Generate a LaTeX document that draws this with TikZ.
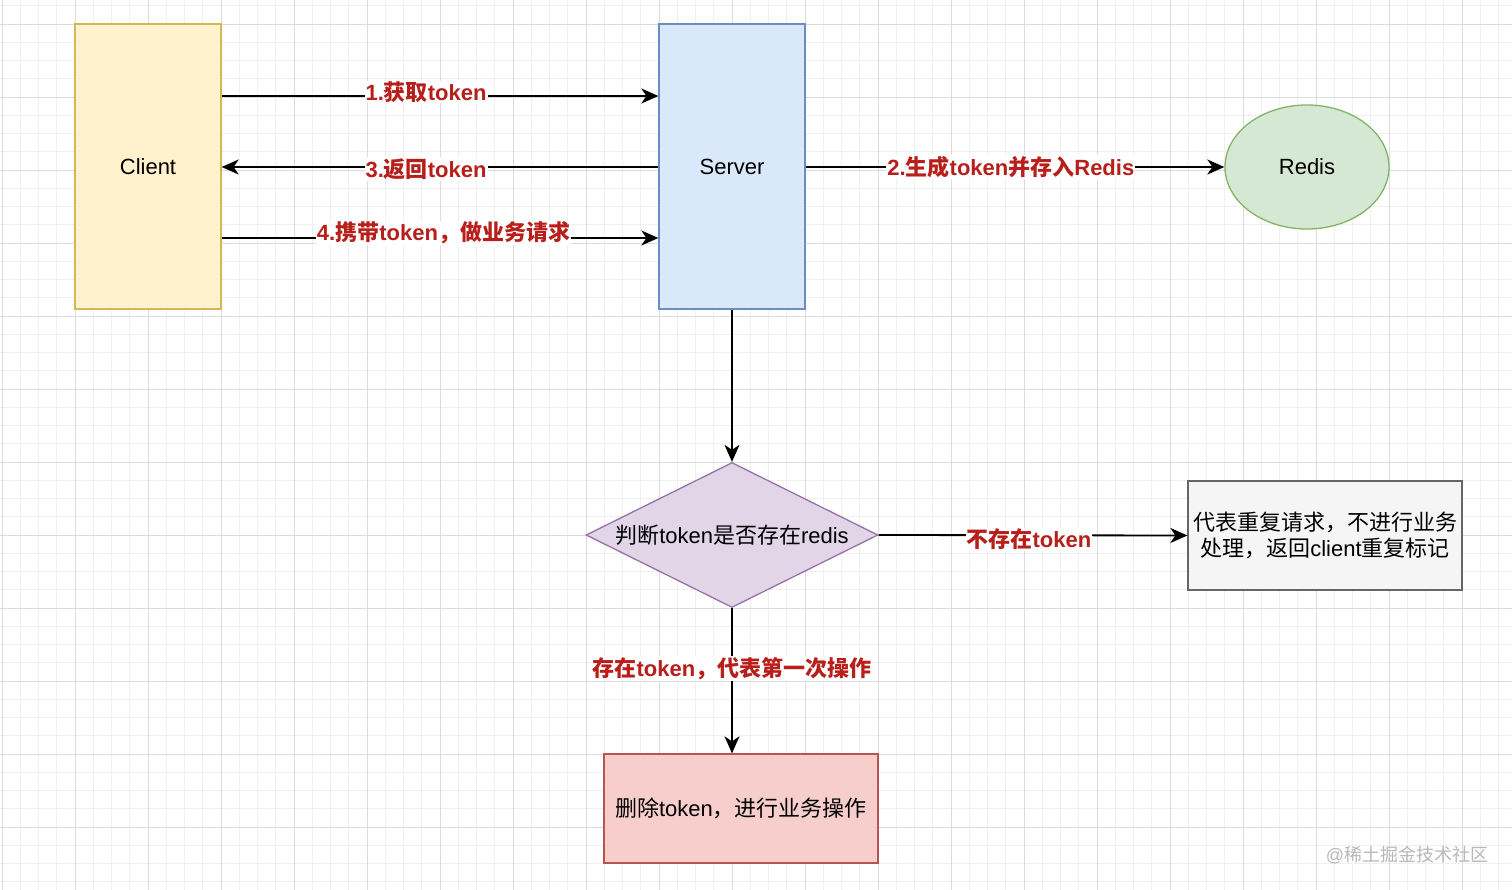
\documentclass[tikz,border=0pt]{standalone}
\usepackage{fontspec}
\setmainfont{Liberation Sans}
\newfontfamily\cjk{Noto Sans CJK SC}
\newcommand\zh[1]{{\cjk #1}}
\usetikzlibrary{arrows.meta,shapes.geometric}
\definecolor{gminor}{HTML}{F0F0F0}
\definecolor{gmajor}{HTML}{DCDCDC}
\definecolor{lblred}{HTML}{B81F1A}
\definecolor{yfill}{HTML}{FFF2CC}\definecolor{ystroke}{HTML}{D6B656}
\definecolor{bfill}{HTML}{DAE8FC}\definecolor{bstroke}{HTML}{6C8EBF}
\definecolor{gfill}{HTML}{D5E8D4}\definecolor{gstroke}{HTML}{82B366}
\definecolor{pfill}{HTML}{E1D5E7}\definecolor{pstroke}{HTML}{9673A6}
\definecolor{rfill}{HTML}{F8CECC}\definecolor{rstroke}{HTML}{B85450}
\definecolor{sfill}{HTML}{F5F5F5}\definecolor{sstroke}{HTML}{666666}
\tikzset{
  box/.style={draw, line width=1.3pt, inner sep=0pt, align=center,
    font=\fontsize{22}{26}\selectfont},
  conn/.style={line width=1.8pt, -{Stealth[length=17pt,width=15pt,inset=5pt]}},
  lbl/.style={fill=white, text=lblred, inner sep=1pt,
    font=\fontsize{22}{26}\selectfont\bfseries},
  minorline/.style={gminor, line width=0.8pt},
  majorline/.style={gmajor, line width=0.9pt},
}
\begin{document}
\begin{tikzpicture}[x=1pt,y=-1pt]
\useasboundingbox (0,0) rectangle (1512,890);
\fill[white] (0,0) rectangle (1512,890);
% grid
\foreach \n in {0,...,82}{\pgfmathsetmacro\xx{2+18.25*\n}\draw[minorline] (\xx,0) -- (\xx,890);}
\foreach \n in {-1,...,47}{\pgfmathsetmacro\yy{24+18.25*\n}\draw[minorline] (0,\yy) -- (1512,\yy);}
\foreach \n in {0,...,20}{\pgfmathsetmacro\xx{2+73*\n}\draw[majorline] (\xx,0) -- (\xx,890);}
\foreach \n in {0,...,11}{\pgfmathsetmacro\yy{24+73*\n}\draw[majorline] (0,\yy) -- (1512,\yy);}

% nodes
\node[box, fill=yfill, draw=ystroke, minimum width=146pt, minimum height=285pt] (client) at (148,166.5) {Client};
\node[box, fill=bfill, draw=bstroke, minimum width=146pt, minimum height=285pt] (server) at (732,166.5) {Server};
\node[box, ellipse, fill=gfill, draw=gstroke, minimum width=164pt, minimum height=124pt] (redis) at (1307,167) {Redis};
\node[box, diamond, aspect=2, fill=pfill, draw=pstroke, minimum width=292pt, minimum height=145pt] (judge) at (732,535) {\zh{判断}token\zh{是否存在}redis};
\node[box, fill=sfill, draw=sstroke, minimum width=274pt, minimum height=109pt] (dup) at (1325,535.5) {\zh{代表重复请求，不进行业务}\\\zh{处理，返回}client\zh{重复标记}};
\node[box, fill=rfill, draw=rstroke, minimum width=274pt, minimum height=109pt] (del) at (741,808.5) {\zh{删除}token\zh{，进行业务操作}};

% connectors
\draw[conn] ([yshift=70.5pt]client.east) -- node[lbl, pos=0.468, yshift=4pt] {1.\zh{获取}token} ([yshift=70.5pt]server.west);
\draw[conn] ([yshift=-0.5pt]server.west) -- node[lbl, pos=0.532, yshift=-2pt] {3.\zh{返回}token} ([yshift=-0.5pt]client.east);
\draw[conn] ([yshift=-71.5pt]client.east) -- node[lbl, pos=0.508, yshift=5pt] {4.\zh{携带}token\zh{，做业务请求}} ([yshift=-71.5pt]server.west);
\draw[conn] (server.east |- redis.west) -- node[lbl, pos=0.49] {2.\zh{生成}token\zh{并存入}Redis} (redis.west);
\draw[conn] (server.south) -- (judge.north);
\draw[conn] (judge.east) -- node[lbl, pos=0.487, yshift=-4pt] {\zh{不存在}token} (dup.west);
\draw[conn] (judge.south) -- node[lbl, pos=0.415] {\zh{存在}token\zh{，代表第一次操作}} (judge.south |- del.north);

% watermark
\node[text=black!28, font=\fontsize{18}{20}\selectfont, inner sep=0pt] (wm) at (1407,855) {@\zh{稀土掘金技术社区}};
\end{tikzpicture}
\end{document}
